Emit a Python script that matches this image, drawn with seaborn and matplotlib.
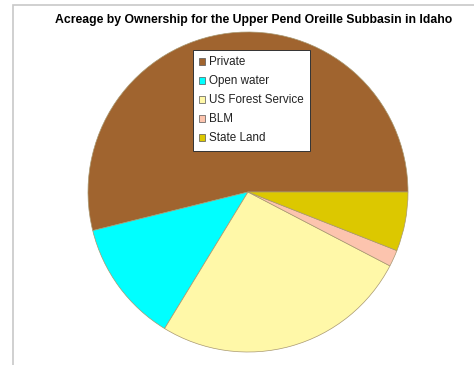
import matplotlib
matplotlib.use("Agg")
import matplotlib.pyplot as plt
from matplotlib.patches import Patch, Rectangle
import seaborn as sns

title = "Acreage by Ownership for the Upper Pend Oreille Subbasin in Idaho"
categories = ["Private", "Open water", "US Forest Service", "BLM", "State Land"]
values = [53.9, 12.4, 26.1, 1.67, 5.97]
colors = ["#A0642F", "#00FFFF", "#FFF8A8", "#FCC4AE", "#DCC800"]

sns.set_theme(style="white")
plt.rcParams["font.family"] = ["Liberation Sans", "DejaVu Sans"]

W, H = 474, 365
fig = plt.figure(figsize=(W / 100, H / 100), dpi=100)
fig.patch.set_facecolor("white")

# outer panel border (top and left visible)
fig.add_artist(Rectangle((13 / W, -0.1), 1.2, (H - 5) / H + 0.1, transform=fig.transFigure,
                         fill=False, edgecolor="#c8c8c8", linewidth=1.2))

ax = fig.add_axes([88 / W, (H - 352) / H, 320 / W, 320 / H])
wedges, _ = ax.pie(values, colors=colors, startangle=0, counterclock=True,
                   wedgeprops=dict(edgecolor="#a89870", linewidth=0.5))
ax.set_xlim(-1, 1)
ax.set_ylim(-1, 1)
ax.set_aspect("equal")
ax.axis("off")

fig.text(254 / W, 1 - 19.5 / H, title, ha="center", va="center",
         fontsize=8.8, fontweight="bold", color="black")

handles = [Patch(facecolor=c, edgecolor="#555555", linewidth=0.5) for c in colors]
leg = fig.legend(handles, categories, loc="upper left",
                 bbox_to_anchor=(193 / W, 1 - 50 / H), borderaxespad=0,
                 fontsize=8.4, handlelength=0.5, handleheight=0.5, handletextpad=0.3,
                 labelspacing=0.6, borderpad=0.55, frameon=True, fancybox=False)
leg.get_frame().set_edgecolor("#333333")
leg.get_frame().set_linewidth(0.7)
leg.get_frame().set_facecolor("white")
leg.get_frame().set_alpha(1)
for t in leg.get_texts():
    t.set_color("#222222")

fig.savefig("out.png", dpi=100)
